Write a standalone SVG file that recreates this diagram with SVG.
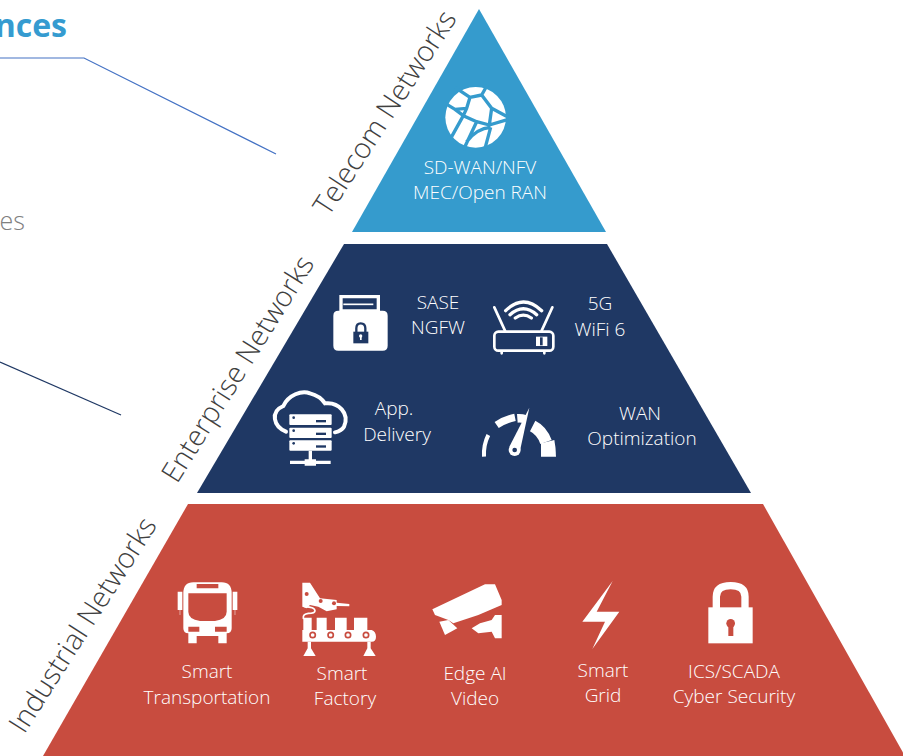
<svg xmlns="http://www.w3.org/2000/svg" width="903" height="756" viewBox="0 0 903 756">
<style>
text{font-family:"Open Sans","Noto Sans","Liberation Sans",sans-serif;font-weight:300}
.l{font-size:19px;fill:#fff;text-anchor:middle}
.s{font-size:28.5px;fill:#404040;text-anchor:middle}
.w{fill:#fff}
.ws{fill:none;stroke:#fff;stroke-linecap:round}
</style>
<rect width="903" height="756" fill="#fff"/>
<g id="connectors" fill="none" stroke-width="1.2">
<path d="M0 58H84L276 154" stroke="#4472C4"/>
<path d="M0 362L121 415" stroke="#1F3864"/>
</g>
<g id="heading"><text x="67" y="37" text-anchor="end" style="font-size:32px;font-weight:700;fill:#359BD0">nces</text></g>
<g id="side-text"><text x="25" y="230" text-anchor="end" style="font-size:25px;fill:#808080">es</text></g>

<g id="telecom">
<path d="M479 9L606 232H352Z" fill="#359BCD"/>
<text class="s" transform="translate(393 118) rotate(-57)">Telecom Networks</text>
<g transform="translate(300 0) scale(.33333)">
<circle cx="527" cy="352" r="91" class="w"/>
<g fill="none" stroke="#359BCD" stroke-width="10" stroke-linejoin="round">
<path d="M465 262L510 292L545 285L562 255M510 292L500 325L465 328L432 308M465 328L490 347L455 410M500 325L490 347L530 365L568 375L575 325L545 285M575 325L625 352M568 375L625 358M530 365L490 450M500 425Q530 385 572 382M572 382L555 445"/>
</g>
</g>
<text class="l" x="480" y="174">SD-WAN/NFV</text>
<text class="l" x="480" y="199">MEC/Open RAN</text>
</g>

<g id="enterprise">
<path d="M344 244H607L751 493H197Z" fill="#1F3864"/>
<text class="s" transform="translate(246 374) rotate(-58)">Enterprise Networks</text>
<g id="icon-folder" transform="translate(260 280) scale(.33333)">
<path class="w" d="M238 45H360V92H368Q383 92 383 107V197Q383 212 368 212H235Q220 212 220 197V107Q220 92 235 92H238Z"/>
<path d="M248 55H350V88H248Z" fill="#1F3864"/>
<path d="M250 73H340" stroke="#fff" stroke-width="5"/>
<path d="M280 155H325V190H280Z" fill="#1F3864"/>
<path d="M289 157V145Q289 130 302 130Q316 130 316 145V157" fill="none" stroke="#1F3864" stroke-width="7"/>
<circle cx="302" cy="168" r="5" class="w"/><path d="M300 168H305V180H300Z" class="w"/>
</g>
<g id="icon-router" transform="translate(460 280) scale(.33333)">
<rect x="103" y="155" width="177" height="57" rx="12" fill="none" stroke="#fff" stroke-width="8"/>
<path class="ws" stroke-width="8" d="M103 82L135 152M277 82L245 152M125 214V220M253 214V220"/>
<path class="ws" stroke-width="10" d="M137 92Q190 40 245 92M150 104Q190 68 230 104M166 114Q190 97 214 114"/>
<path class="w" d="M228 170H262V198H228Z"/><path d="M240 172H248V196H240Z" fill="#1F3864"/>
</g>
<g id="icon-cloud" transform="translate(260 280) scale(.33333)">
<path class="ws" stroke-width="12" d="M78 455C40 440 30 395 70 378C85 345 125 330 150 340C170 345 185 355 195 370C235 365 270 400 252 440Q245 452 225 457"/>
<rect x="88" y="403" width="127" height="32" rx="3" class="w"/>
<rect x="88" y="443" width="127" height="31" rx="3" class="w"/>
<rect x="88" y="481" width="127" height="31" rx="3" class="w"/>
<g fill="#1F3864"><circle cx="101" cy="413" r="4"/><circle cx="101" cy="452" r="4"/><circle cx="101" cy="490" r="4"/>
<rect x="168" y="420" width="30" height="7"/><rect x="168" y="458" width="30" height="7"/><rect x="168" y="496" width="30" height="7"/></g>
<path class="w" d="M146 512H156V538H168V542H212V552H168V557H134V552H90V542H134V538H146Z"/>
</g>
<g id="icon-gauge" transform="translate(460 280) scale(.33333)">
<g fill="none" stroke="#fff" stroke-linecap="butt">
<path stroke-width="12" d="M72 530Q70 495 85 465"/>
<path stroke-width="22" d="M110 435Q135 418 165 412"/>
<path stroke-width="26" d="M172 415Q185 414 196 418"/>
<path stroke-width="36" d="M218 438Q246 452 258 486"/>
</g>
<path class="w" d="M243 490L283 480Q288 505 288 530H243Z"/>
<path class="w" d="M208 383L180 512L148 500Z"/>
<circle cx="164" cy="510" r="18" class="w"/><circle cx="164" cy="510" r="7" fill="#1F3864"/>
</g>
<text class="l" x="438" y="309">SASE</text>
<text class="l" x="438" y="334">NGFW</text>
<text class="l" x="600" y="310">5G</text>
<text class="l" x="600" y="336">WiFi 6</text>
<text class="l" x="394" y="415">App.</text>
<text class="l" x="397" y="441">Delivery</text>
<text class="l" x="640" y="420">WAN</text>
<text class="l" x="642" y="445">Optimization</text>
</g>

<g id="industrial">
<path d="M188 504H763L905 756H43Z" fill="#C84C3F"/>
<text class="s" transform="translate(91 630) rotate(-57.5)">Industrial Networks</text>
<g id="icon-bus" transform="translate(130 570) scale(.33333)">
<path class="w" d="M190 37H275Q305 37 305 70V175Q305 190 290 190V220H265V198H200V220H175V190Q160 190 160 175V70Q160 37 190 37Z"/>
<path d="M175 70H290V125Q290 148 255 153H210Q175 148 175 125Z" fill="#C84C3F"/>
<path d="M200 42H265V55H200ZM175 170H208V185H175ZM255 170H290V185H255Z" fill="#C84C3F"/>
<path class="w" d="M143 65H157V120H143ZM308 65H322V120H308Z"/>
<path d="M150 120V135M315 120V135" stroke="#fff" stroke-opacity=".5" stroke-width="3"/>
</g>
<g id="icon-factory" transform="translate(130 570) scale(.33333)">
<path class="w" d="M517 38H540L570 85L620 90V98L658 102V109L620 108V118L590 124L565 110L540 105L530 115L517 110Z"/>
<path class="ws" stroke-width="5" d="M525 110Q555 112 555 122Q555 130 535 130Q518 132 520 145"/>
<path class="w" d="M520 143H545V180H560V143H590V180H615V143H650V180H672V143H712V180H725Q738 185 738 200Q738 215 725 215H517V180H520Z"/>
<path class="w" d="M533 215H543V235L557 258H520L533 235ZM712 215H722V235L737 258H700L712 235Z"/>
<g fill="#C84C3F"><circle cx="530" cy="72" r="6"/><circle cx="572" cy="93" r="6"/><circle cx="612" cy="100" r="6"/></g>
<g fill="#fff" stroke="#C84C3F" stroke-width="5"><circle cx="548" cy="195" r="8"/><circle cx="602" cy="195" r="8"/><circle cx="654" cy="195" r="8"/><circle cx="708" cy="195" r="8"/></g>
</g>
<g id="icon-camera" transform="translate(420 570) scale(.33333)">
<path class="w" d="M37 118L195 43H225L245 90V105L175 135L100 160L85 150L45 135Z"/>
<path class="w" d="M58 155L85 150L112 175L75 195Z"/>
<path class="w" d="M155 175L180 160L215 150L225 135H245V205H225L215 185L175 190Z"/>
</g>
<g id="icon-bolt" transform="translate(420 570) scale(.33333)">
<path class="w" d="M578 33L530 125H598L517 237L555 155H487Z"/>
</g>
<g id="icon-lock" transform="translate(420 570) scale(.33333)">
<rect x="865" y="112" width="133" height="108" class="w"/>
<path d="M889 115V80Q889 47 932 47Q975 47 975 80V115" fill="none" stroke="#fff" stroke-width="22"/>
<circle cx="932" cy="160" r="13" fill="#C84C3F"/><path d="M925 165H940V198H925Z" fill="#C84C3F"/>
</g>
<text class="l" x="207" y="678">Smart</text>
<text class="l" x="207" y="704">Transportation</text>
<text class="l" x="342" y="680">Smart</text>
<text class="l" x="345" y="705">Factory</text>
<text class="l" x="475" y="680">Edge AI</text>
<text class="l" x="475" y="705">Video</text>
<text class="l" x="603" y="677">Smart</text>
<text class="l" x="603" y="702">Grid</text>
<text class="l" x="734" y="678">ICS/SCADA</text>
<text class="l" x="734" y="703">Cyber Security</text>
</g>
</svg>
